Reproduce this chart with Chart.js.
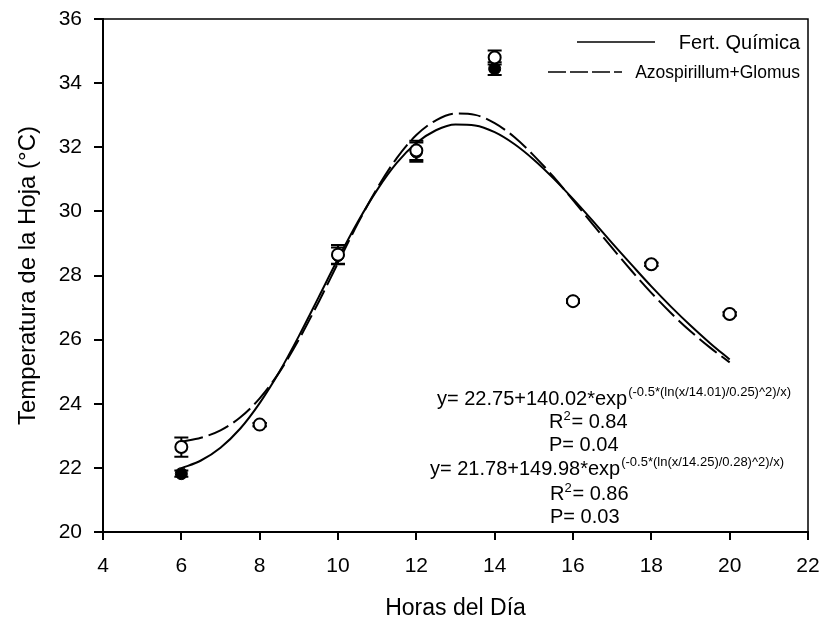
<!DOCTYPE html>
<html>
<head>
<meta charset="utf-8">
<script src="https://cdn.jsdelivr.net/npm/chart.js@4.4.1/dist/chart.umd.min.js"></script>
<style>
  html, body { margin: 0; padding: 0; background: #fff; }
  #wrap { width: 826px; height: 622px; }
</style>
</head>
<body>
<div id="wrap"><canvas id="chart" width="826" height="622"></canvas></div>
<script>
// observed points (hours of day vs leaf temperature)
const hours = [6, 8, 10, 12, 14, 16, 18, 20];
const openTemp = [22.65, 23.35, 28.65, 31.9, 34.8, 27.2, 28.35, 26.8];
const openErr = [0.3, 0.05, 0.3, 0.3, 0.22, 0.05, 0.05, 0.05];
const filledTemp = [21.82, 23.35, 28.62, 31.85, 34.45, 27.2, 28.35, 26.8];
const filledErr = [0.1, 0.05, 0.25, 0.3, 0.2, 0.05, 0.05, 0.05];

// fitted curves
const fitX = [6, 6.5, 7, 7.5, 8, 8.5, 9, 9.5, 10, 10.5, 11, 11.5, 12, 12.5, 13,
  13.5, 14, 14.5, 15, 15.5, 16, 16.5, 17, 17.5, 18, 18.5, 19, 19.5, 20];
const fitFert = [21.99, 22.23, 22.63, 23.22, 24.02, 24.99, 26.11, 27.31, 28.52, 29.66,
  30.67, 31.51, 32.13, 32.53, 32.71, 32.68, 32.47, 32.10, 31.61, 31.03, 30.39, 29.71,
  29.01, 28.33, 27.66, 27.03, 26.44, 25.89, 25.38];
const fitAzo = [22.82, 22.94, 23.17, 23.57, 24.17, 24.98, 26.00, 27.16, 28.39, 29.61,
  30.72, 31.66, 32.38, 32.84, 33.05, 33.01, 32.75, 32.32, 31.74, 31.08, 30.35, 29.60,
  28.86, 28.14, 27.46, 26.83, 26.26, 25.75, 25.29];

const xTicks = [4, 6, 8, 10, 12, 14, 16, 18, 20, 22];
const yTicks = [20, 22, 24, 26, 28, 30, 32, 34, 36];

const FONT = '"Liberation Sans", Arial, Helvetica, sans-serif';

function pts(xs, ys) {
  return xs.map((x, i) => ({ x: x, y: ys[i] }));
}

// error bars under the markers
const errorBars = {
  id: "errorBars",
  beforeDatasetsDraw(chart) {
    const ctx = chart.ctx;
    const xs = chart.scales.x, ys = chart.scales.y;
    ctx.save();
    ctx.strokeStyle = "#000";
    ctx.lineWidth = 2;
    [[openTemp, openErr], [filledTemp, filledErr]].forEach(([vals, errs]) => {
      hours.forEach((h, i) => {
        const px = xs.getPixelForValue(h);
        const t = ys.getPixelForValue(vals[i] + errs[i]);
        const b = ys.getPixelForValue(vals[i] - errs[i]);
        ctx.beginPath();
        ctx.moveTo(px, t); ctx.lineTo(px, b);
        ctx.moveTo(px - 7, t); ctx.lineTo(px + 7, t);
        ctx.moveTo(px - 7, b); ctx.lineTo(px + 7, b);
        ctx.stroke();
      });
    });
    ctx.restore();
  }
};

function drawEq(ctx, x, y, main, sup) {
  ctx.font = "20px " + FONT;
  ctx.fillText(main, x, y);
  const w = ctx.measureText(main).width;
  ctx.font = "13px " + FONT;
  ctx.fillText(sup, x + w + 1, y - 9);
}

function drawR2(ctx, x, y, txt) {
  ctx.font = "20px " + FONT;
  ctx.fillText("R", x, y);
  const w = ctx.measureText("R").width;
  ctx.font = "13px " + FONT;
  ctx.fillText("2", x + w, y - 8);
  ctx.font = "20px " + FONT;
  ctx.fillText(txt, x + w + 8, y);
}

const extras = {
  id: "extras",
  afterDraw(chart) {
    const ctx = chart.ctx;
    const a = chart.chartArea;
    ctx.save();
    // box top and right
    ctx.strokeStyle = "#000";
    ctx.lineWidth = 1.5;
    ctx.beginPath();
    ctx.moveTo(a.left, a.top); ctx.lineTo(a.right, a.top); ctx.lineTo(a.right, a.bottom);
    ctx.stroke();

    // legend
    ctx.lineWidth = 1.5;
    ctx.beginPath();
    ctx.moveTo(577, 42); ctx.lineTo(655, 42);
    ctx.stroke();
    ctx.setLineDash([18, 4]);
    ctx.beginPath();
    ctx.moveTo(548, 72); ctx.lineTo(622, 72);
    ctx.stroke();
    ctx.setLineDash([]);
    ctx.fillStyle = "#000";
    ctx.textAlign = "right";
    ctx.textBaseline = "alphabetic";
    ctx.font = "20px " + FONT;
    ctx.fillText("Fert. Química", 800, 49);
    ctx.font = "17.5px " + FONT;
    ctx.fillText("Azospirillum+Glomus", 800, 78);

    // equations
    ctx.textAlign = "left";
    drawEq(ctx, 437, 405, "y= 22.75+140.02*exp", "(-0.5*(ln(x/14.01)/0.25)^2)/x)");
    drawR2(ctx, 549, 428, "= 0.84");
    ctx.fillText("P= 0.04", 549, 451);

    drawEq(ctx, 430, 475, "y= 21.78+149.98*exp", "(-0.5*(ln(x/14.25)/0.28)^2)/x)");
    drawR2(ctx, 550, 500, "= 0.86");
    ctx.fillText("P= 0.03", 550, 523);
    ctx.restore();
  }
};

new Chart(document.getElementById("chart"), {
  type: "scatter",
  data: {
    datasets: [
      {
        label: "Fert. Química obs",
        data: pts(hours, openTemp),
        pointRadius: 6,
        pointBackgroundColor: "#fff",
        pointBorderColor: "#000",
        pointBorderWidth: 2,
        order: 0
      },
      {
        label: "Azospirillum+Glomus obs",
        data: pts(hours, filledTemp),
        pointRadius: 6,
        pointBackgroundColor: "#000",
        pointBorderColor: "#000",
        pointBorderWidth: 1,
        order: 1
      },
      {
        label: "Fert. Química",
        data: pts(fitX, fitFert),
        showLine: true,
        pointRadius: 0,
        borderColor: "#000",
        borderWidth: 2,
        cubicInterpolationMode: "monotone",
        order: 2
      },
      {
        label: "Azospirillum+Glomus",
        data: pts(fitX, fitAzo),
        showLine: true,
        pointRadius: 0,
        borderColor: "#000",
        borderWidth: 2,
        borderDash: [22, 6],
        cubicInterpolationMode: "monotone",
        order: 3
      }
    ]
  },
  options: {
    responsive: false,
    animation: false,
    devicePixelRatio: 1,
    layout: { padding: { top: 19, right: 18, left: 0, bottom: 0 } },
    plugins: { legend: { display: false }, tooltip: { enabled: false } },
    scales: {
      x: {
        type: "linear",
        min: 4, max: 22,
        afterBuildTicks: s => { s.ticks = xTicks.map(v => ({ value: v })); },
        afterFit: s => { s.height = 90; s.paddingLeft = 0; s.paddingRight = 0; },
        ticks: { color: "#000", font: { size: 21, family: FONT }, padding: 14 },
        grid: { drawOnChartArea: false, drawTicks: true, tickLength: 8, color: "#000", lineWidth: 2 },
        border: { color: "#000", width: 2 },
        title: { display: true, text: "Horas del Día", color: "#000",
          font: { size: 23, family: FONT }, padding: { top: 2, bottom: 0 } }
      },
      y: {
        type: "linear",
        min: 20, max: 36,
        afterBuildTicks: s => { s.ticks = yTicks.map(v => ({ value: v })); },
        afterFit: s => { s.width = 103; s.paddingTop = 0; s.paddingBottom = 0; },
        ticks: { color: "#000", font: { size: 21, family: FONT }, padding: 12 },
        grid: { drawOnChartArea: false, drawTicks: true, tickLength: 9, color: "#000", lineWidth: 2 },
        border: { color: "#000", width: 2 },
        title: { display: true, text: "Temperatura de la Hoja (°C)", color: "#000",
          font: { size: 24, family: FONT }, padding: { top: 14, bottom: 0 } }
      }
    }
  },
  plugins: [errorBars, extras]
});
</script>
</body>
</html>
